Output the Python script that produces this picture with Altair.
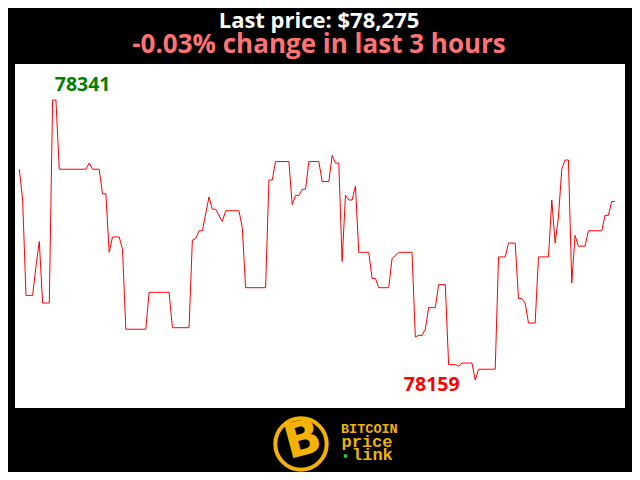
import altair as alt
import pandas as pd

# vertices of the price line: minute index (0..179) and price in USD
minutes = [0, 1, 2, 4, 5, 6, 7, 9, 10, 11, 12, 20, 21, 22, 24, 25, 26, 27, 28, 30,
           31, 32, 38, 39, 45, 46, 51, 52, 53, 54, 55, 57, 58, 59, 61, 62, 66, 67, 68, 74,
           75, 76, 77, 81, 82, 83, 84, 85, 86, 87, 90, 91, 93, 94, 95, 96, 97, 98, 99, 100,
           101, 102, 105, 106, 107, 108, 111, 112, 114, 118, 119, 120, 121, 122, 123, 125, 126, 128, 129, 131,
           132, 133, 136, 137, 138, 143, 144, 146, 147, 149, 150, 151, 152, 153, 155, 156, 159, 160, 161, 162,
           163, 164, 165, 166, 167, 168, 170, 171, 175, 176, 177, 178, 179]
prices = [78296, 78276, 78214, 78214, 78233, 78249, 78209, 78209, 78341, 78341, 78296, 78296, 78300, 78296, 78296, 78280, 78280, 78242, 78252, 78252,
          78244, 78192, 78192, 78216, 78216, 78193, 78193, 78250, 78251, 78256, 78256, 78278, 78270, 78270, 78262, 78269, 78269, 78258, 78219, 78219,
          78289, 78289, 78301, 78301, 78273, 78279, 78279, 78283, 78283, 78301, 78301, 78288, 78288, 78305, 78300, 78300, 78236, 78279, 78276, 78276,
          78285, 78242, 78242, 78225, 78225, 78219, 78219, 78238, 78242, 78242, 78187, 78188, 78188, 78192, 78206, 78206, 78221, 78221, 78169, 78169,
          78168, 78170, 78170, 78159, 78166, 78166, 78239, 78239, 78248, 78248, 78212, 78212, 78209, 78196, 78196, 78239, 78239, 78276, 78248, 78265,
          78296, 78302, 78302, 78222, 78253, 78246, 78246, 78256, 78256, 78266, 78266, 78275, 78275]

title_text = "Last price: $78,275"
subtitle_text = "-0.03% change in last 3 hours"
logo_lines = ["BITCOIN", "price", "link"]

df = pd.DataFrame({"minute": minutes, "price": prices})
imax = prices.index(max(prices))
imin = prices.index(min(prices))
df_max = pd.DataFrame({"minute": [minutes[imax]], "price": [prices[imax]], "label": [str(prices[imax])]})
df_min = pd.DataFrame({"minute": [minutes[imin]], "price": [prices[imin]], "label": [str(prices[imin])]})

W, H = 610, 344
xs = alt.Scale(domain=[-1.3, 182.0], nice=False, zero=False)
ys = alt.Scale(domain=[78140.8, 78364.4], nice=False, zero=False)

line = alt.Chart(df).mark_line(color="#ff0000", strokeWidth=1, clip=True).encode(
    x=alt.X("minute:Q", scale=xs, axis=None),
    y=alt.Y("price:Q", scale=ys, axis=None),
)

max_lbl = alt.Chart(df_max).mark_text(
    color="#008000", font="Open Sans", fontWeight="bold", fontSize=19.5,
    align="center", baseline="alphabetic", dx=30, dy=-9.5
).encode(x=alt.X("minute:Q", scale=xs), y=alt.Y("price:Q", scale=ys), text="label:N")

min_lbl = alt.Chart(df_min).mark_text(
    color="#ff0000", font="Open Sans", fontWeight="bold", fontSize=19.5,
    align="center", baseline="alphabetic", dx=-43.5, dy=11
).encode(x=alt.X("minute:Q", scale=xs), y=alt.Y("price:Q", scale=ys), text="label:N")

title = alt.Chart(pd.DataFrame({"t": [title_text]})).mark_text(
    color="white", font="Open Sans", fontWeight="bold", fontSize=22,
    align="center", baseline="alphabetic"
).encode(x=alt.value(304), y=alt.value(-36.5), text="t:N")

subtitle = alt.Chart(pd.DataFrame({"t": [subtitle_text]})).mark_text(
    color="#ff7373", font="Open Sans", fontWeight="bold", fontSize=26,
    align="center", baseline="alphabetic"
).encode(x=alt.value(304), y=alt.value(-11.5), text="t:N")

# logo
ring = alt.Chart(pd.DataFrame({"a": [0]})).mark_point(
    shape="circle", filled=False, stroke="#f5b301", strokeWidth=4, size=2642, opacity=1
).encode(x=alt.value(286), y=alt.value(380))

bsym = alt.Chart(pd.DataFrame({"t": ["B"]})).mark_text(
    color="#f5b301", font="DejaVu Sans", fontWeight="bold", fontSize=48,
    align="center", baseline="middle", angle=345
).encode(x=alt.value(288), y=alt.value(377), text="t:N")

w1 = alt.Chart(pd.DataFrame({"t": [logo_lines[0]]})).mark_text(
    color="#f0b400", font="Liberation Mono", fontWeight="bold", fontSize=13.5,
    align="left", baseline="alphabetic"
).encode(x=alt.value(326), y=alt.value(368.5), text="t:N")

w2 = alt.Chart(pd.DataFrame({"t": [logo_lines[1]]})).mark_text(
    color="#f0b400", font="Liberation Mono", fontWeight="bold", fontSize=17,
    align="left", baseline="alphabetic"
).encode(x=alt.value(326.5), y=alt.value(382.5), text="t:N")

w3 = alt.Chart(pd.DataFrame({"t": [logo_lines[2]]})).mark_text(
    color="#f0b400", font="Liberation Mono", fontWeight="bold", fontSize=17,
    align="left", baseline="alphabetic"
).encode(x=alt.value(337), y=alt.value(396), text="t:N")

dot = alt.Chart(pd.DataFrame({"a": [0]})).mark_square(
    color="#2ecc40", size=12, opacity=1
).encode(x=alt.value(330.5), y=alt.value(392))

chart = alt.layer(line, max_lbl, min_lbl, title, subtitle, ring, bsym, w1, w2, w3, dot).properties(
    width=W, height=H,
    autosize=alt.AutoSizeParams(type="none"),
    padding={"left": 7, "top": 56, "right": 7, "bottom": 64},
    background="black",
).configure_view(fill="white", stroke=None)

chart.save("out.html", embed_options={"renderer": "svg", "actions": False})
